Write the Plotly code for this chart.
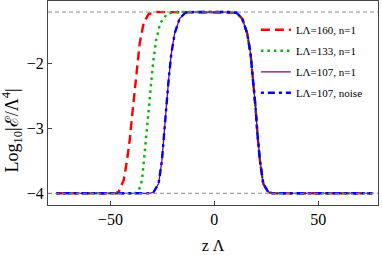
import plotly.graph_objects as go

# ---- data ----
lower_plateau = -4.0
upper_plateau = -1.21

# shared right-hand descent (all curves coincide there)
right_z = [6.6, 10.6, 13.4, 15.8, 17.4, 18.7, 19.8, 20.7, 21.9, 23.5, 25.9, 28.0, 76.0]
right_v = [-1.21, -1.22, -1.31, -1.54, -1.85, -2.26, -2.67, -3.08, -3.49, -3.85, -3.98, -4.0, -4.0]

# left-hand rises
red_z = [-76.0, -47.5, -46.0, -43.6, -42.0, -40.7, -39.6, -38.5, -37.2, -35.9, -34.0, -31.6, -27.6]
red_v = [-4.0, -4.0, -3.975, -3.80, -3.49, -3.18, -2.82, -2.46, -2.05, -1.69, -1.38, -1.24, -1.21]

green_z = [-76.0, -38.0, -36.4, -34.8, -33.7, -32.7, -31.7, -30.8, -29.5, -28.0, -26.0, -22.8, -19.6]
green_v = [-4.0, -4.0, -3.96, -3.80, -3.44, -3.08, -2.72, -2.36, -2.00, -1.64, -1.38, -1.24, -1.21]

blue_z = [-76.0, -31.0, -29.2, -26.8, -25.2, -24.0, -23.1, -22.0, -20.7, -19.1, -16.7, -13.9, -9.9]
blue_v = [-4.0, -4.0, -3.98, -3.85, -3.49, -3.08, -2.67, -2.26, -1.85, -1.54, -1.31, -1.22, -1.21]

labels = ["L\u039b=160, n=1", "L\u039b=133, n=1", "L\u039b=107, n=1", "L\u039b=107, noise"]
x_ticks = [-50, 0, 50]
y_ticks = [-4, -3, -2]

serif = "Liberation Serif"

fig = go.Figure()
fig.add_hline(y=lower_plateau, line=dict(color="#8c8c8c", width=1, dash="4px,3px"))
fig.add_hline(y=upper_plateau, line=dict(color="#8c8c8c", width=1, dash="4px,3px"))

styles = [
    (red_z, red_v, dict(color="#ff0000", width=2.4, dash="9px,5px")),
    (green_z, green_v, dict(color="#00b400", width=2.4, dash="2.5px,4px")),
    (blue_z, blue_v, dict(color="#800080", width=1.3)),
    (blue_z, blue_v, dict(color="#0000ff", width=2.4, dash="3px,4px,7px,4px")),
]
for i, ((zs, vs, ln), lab) in enumerate(zip(styles, labels)):
    fig.add_trace(go.Scatter(x=zs + right_z, y=vs + right_v, mode="lines",
                             line=ln, name=lab, legendgroup=f"g{i}"))

fig.update_layout(
    width=382, height=255,
    margin=dict(l=48, r=4, t=1, b=50),
    paper_bgcolor="white", plot_bgcolor="white",
    font=dict(family=serif, size=16, color="black"),
    showlegend=True,
    legend=dict(x=0.63, y=0.93, xanchor="left", yanchor="top",
                bgcolor="rgba(0,0,0,0)", font=dict(size=11, family=serif),
                itemwidth=30, tracegroupgap=2),
    xaxis=dict(range=[-80, 78.7], tickvals=x_ticks, ticks="inside", ticklen=4,
               showgrid=False, zeroline=False, showline=True, mirror=True,
               linecolor="#444", linewidth=1, tickcolor="#444", automargin=False,
               title=dict(text="z \u039b", font=dict(size=16), standoff=12)),
    yaxis=dict(range=[-4.18, -1.04], tickvals=y_ticks, ticks="inside", ticklen=4,
               showgrid=False, zeroline=False, showline=True, mirror=True,
               linecolor="#444", linewidth=1, tickcolor="#444", automargin=False),
)
fig.add_annotation(text="Log<sub>10</sub>|\u2130/\u039b<sup>4</sup>|", textangle=-90,
                   xref="paper", yref="paper", x=-0.109, y=0.365,
                   xanchor="center", yanchor="middle", showarrow=False,
                   font=dict(size=18, family=serif))

fig.write_html("out.html", config={"displayModeBar": False},
               post_script="document.body.style.margin='0';")
